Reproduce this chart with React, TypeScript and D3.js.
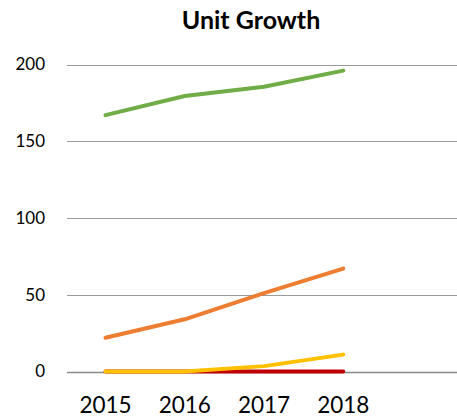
import React from "react";
import * as d3 from "d3";

const title = "Unit Growth";
const categories = ["2015", "2016", "2017", "2018", ""];
const yTicks = [0, 50, 100, 150, 200];
const seriesNames = ["Series A", "Series B", "Series C", "Series D"];
const seriesColors = ["#70AD47", "#ED7D31", "#C00000", "#FFC000"];
const greenValues = [167, 179.5, 185.5, 196];
const orangeValues = [22, 34, 51, 67];
const redValues = [0, 0, 0, 0];
const yellowValues = [0, 0, 3.5, 11];
const seriesValues = [greenValues, orangeValues, redValues, yellowValues];

const W = 457;
const H = 419;

export default function App() {
  const x = d3.scalePoint<string>().domain(categories).range([105.5, 422.5]);
  const y = d3.scaleLinear().domain([0, 200]).range([371.5, 64.5]);
  const line = d3
    .line<number>()
    .x((_, i) => x(categories[i]) as number)
    .y((d) => y(d));
  const font = "Lato, 'Noto Sans', sans-serif";
  return (
    <svg
      width={W}
      height={H}
      style={{ position: "absolute", left: 0, top: 0, background: "#fff" }}
      fontFamily={font}
    >
      <text x={251} y={28.5} textAnchor="middle" fontSize={25} fontWeight="bold" fill="#000">
        {title}
      </text>
      {yTicks.map((t) => (
        <g key={t}>
          <line
            x1={67}
            x2={W}
            y1={Math.round(y(t)) + 0.5}
            y2={Math.round(y(t)) + 0.5}
            stroke={t === 0 ? "#8a8a8a" : "#9a9a9a"}
            strokeWidth={t === 0 ? 1.5 : 1}
          />
          <text x={45} y={y(t)} dy="0.35em" textAnchor="end" fontSize={17} fill="#000">
            {t}
          </text>
        </g>
      ))}
      {seriesValues.map((vals, i) => (
        <path
          key={seriesNames[i]}
          d={line(vals) || ""}
          fill="none"
          stroke={seriesColors[i]}
          strokeWidth={4}
          strokeLinecap="round"
          strokeLinejoin="round"
        />
      ))}
      {categories.filter((c) => c).map((c) => (
        <text key={c} x={x(c)} y={413} textAnchor="middle" fontSize={22.5} fill="#000">
          {c}
        </text>
      ))}
    </svg>
  );
}
